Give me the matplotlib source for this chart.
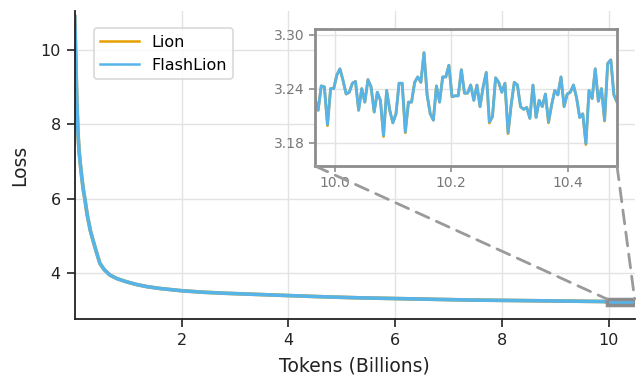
import numpy as np
import matplotlib
matplotlib.use("Agg")
import matplotlib.pyplot as plt
from matplotlib.patches import Rectangle, ConnectionPatch

# coarse read of the full run (tokens in billions, loss)
main_tokens = [0.0, 0.02, 0.04, 0.06, 0.08, 0.10, 0.13, 0.16, 0.19, 0.23, 0.29,
               0.33, 0.40, 0.47, 0.55, 0.66, 0.80, 0.97, 1.15, 1.35, 1.60, 2.0,
               2.4, 2.85, 3.4, 4.0, 4.6, 5.3, 6.0, 6.7, 7.4, 8.0, 8.7, 9.4, 9.9]
main_loss = [10.9, 9.8, 8.6, 7.8, 7.3, 7.0, 6.6, 6.25, 6.0, 5.6, 5.16,
             4.95, 4.6, 4.27, 4.1, 3.95, 3.85, 3.77, 3.70, 3.64, 3.59, 3.53,
             3.49, 3.46, 3.43, 3.40, 3.37, 3.34, 3.32, 3.30, 3.28, 3.27, 3.26, 3.25, 3.24]

# fine read of the zoomed window (last ~0.5B tokens)
inset_start, inset_end = 9.966, 10.485
flash_inset = [3.229, 3.216, 3.243, 3.242, 3.200, 3.240, 3.240, 3.255, 3.262, 3.249,
               3.234, 3.236, 3.246, 3.248, 3.216, 3.240, 3.225, 3.250, 3.242, 3.214,
               3.236, 3.227, 3.188, 3.238, 3.216, 3.202, 3.212, 3.246, 3.246, 3.192,
               3.225, 3.225, 3.247, 3.253, 3.247, 3.280, 3.233, 3.212, 3.205, 3.243,
               3.225, 3.253, 3.253, 3.266, 3.231, 3.232, 3.232, 3.261, 3.235, 3.235,
               3.244, 3.227, 3.244, 3.220, 3.242, 3.258, 3.203, 3.209, 3.252, 3.247,
               3.236, 3.246, 3.191, 3.222, 3.247, 3.244, 3.220, 3.217, 3.219, 3.207,
               3.244, 3.208, 3.227, 3.220, 3.234, 3.203, 3.222, 3.238, 3.233, 3.253,
               3.220, 3.234, 3.236, 3.244, 3.230, 3.208, 3.212, 3.179, 3.238, 3.229,
               3.262, 3.226, 3.240, 3.205, 3.268, 3.272, 3.233, 3.225]
# Lion sits under FlashLion almost everywhere; only a few dips differ
lion_diff = {4: -0.0012, 22: -0.0012, 29: -0.001, 56: -0.0012, 62: -0.001,
             75: -0.001, 87: -0.0012, 93: -0.001}

flash_inset = np.array(flash_inset)
lion_inset = flash_inset.copy()
for i, d in lion_diff.items():
    lion_inset[i] += d
inset_tokens = np.linspace(inset_start, inset_end, len(flash_inset))

tokens = np.concatenate([main_tokens, inset_tokens])
flash = np.concatenate([main_loss, flash_inset])
lion = np.concatenate([main_loss, lion_inset])

LION_C = '#E69F00'
FLASH_C = '#56B4E9'
GRID_C = '#e3e3e3'
BOX_C = '#8c8c8c'
TXT_C = '#222222'

plt.rcParams['font.family'] = 'DejaVu Sans'

fig = plt.figure(figsize=(6.42, 3.79), dpi=100)
ax = fig.add_axes([0.1164, 0.1583, 0.8726, 0.8127])

ax.plot(tokens, lion, color=LION_C, lw=2.6, label='Lion')
ax.plot(tokens, flash, color=FLASH_C, lw=2.6, label='FlashLion')

ax.set_xlim(0, 10.49)
ax.set_ylim(2.77, 11.05)
ax.set_xticks([2, 4, 6, 8, 10])
ax.set_yticks([4, 6, 8, 10])
ax.grid(True, color=GRID_C, lw=1)
ax.set_axisbelow(True)
for s in ['top', 'right']:
    ax.spines[s].set_visible(False)
for s in ['left', 'bottom']:
    ax.spines[s].set_color(TXT_C)
    ax.spines[s].set_linewidth(1.3)
ax.tick_params(direction='out', length=6, width=1.2, labelsize=11.5, colors=TXT_C, pad=4)
ax.set_xlabel('Tokens (Billions)', fontsize=13.5, color=TXT_C, labelpad=6)
ax.set_ylabel('Loss', fontsize=13.5, color=TXT_C, labelpad=8)

leg = ax.legend(loc='upper left', bbox_to_anchor=(0.02, 0.97), fontsize=11.5,
                handlelength=2.4, frameon=True, fancybox=True)
leg.get_frame().set_edgecolor('#d0d0d0')
leg.get_frame().set_linewidth(1.2)
for h in leg.get_lines():
    h.set_linewidth(1.8)

# zoom window
axin = fig.add_axes([0.4907, 0.562, 0.4704, 0.362])
axin.plot(inset_tokens, lion_inset, color=LION_C, lw=2)
axin.plot(inset_tokens, flash_inset, color=FLASH_C, lw=2)
axin.set_xlim(inset_start, inset_end)
ylo, yhi = 3.154, 3.3065
axin.set_ylim(ylo, yhi)
axin.set_xticks([10.0, 10.2, 10.4])
axin.set_yticks([3.18, 3.24, 3.30])
axin.set_xticklabels(['10.0', '10.2', '10.4'])
axin.set_yticklabels(['3.18', '3.24', '3.30'])
axin.grid(True, color=GRID_C, lw=1)
axin.set_axisbelow(True)
for s in axin.spines.values():
    s.set_color(BOX_C)
    s.set_linewidth(2)
axin.tick_params(direction='out', length=4, width=1.2, labelsize=10,
                 colors=BOX_C, labelcolor='#777777')

rect = Rectangle((inset_start, ylo), inset_end - inset_start, yhi - ylo,
                 fill=False, edgecolor=BOX_C, lw=2.5, zorder=5)
ax.add_patch(rect)

for xa, xd in [(0, inset_start), (1, inset_end)]:
    con = ConnectionPatch(xyA=(xa, 0), coordsA=axin.transAxes,
                          xyB=(xd, yhi), coordsB=ax.transData,
                          color='#9a9a9a', lw=2, ls=(0, (5, 3)), zorder=4)
    fig.add_artist(con)

fig.savefig('out.png', dpi=100)
